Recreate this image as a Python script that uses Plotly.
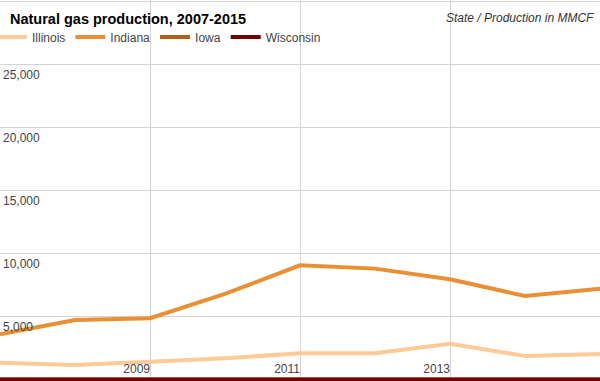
import plotly.graph_objects as go

years = [2007, 2008, 2009, 2010, 2011, 2012, 2013, 2014, 2015]
illinois = [1330, 1150, 1410, 1680, 2080, 2080, 2840, 1860, 2020]
indiana = [3590, 4720, 4860, 6790, 9060, 8800, 7950, 6630, 7210]
iowa = [0, 0, 0, 0, 0, 0, 0, 0, 0]
wisconsin = [0, 0, 0, 0, 0, 0, 0, 0, 0]

series_names = ["Illinois", "Indiana", "Iowa", "Wisconsin"]
series_values = [illinois, indiana, iowa, wisconsin]
colors = ["#FDCA98", "#E98F34", "#B55F12", "#730000"]

x_tickvals = [2009, 2011, 2013]
y_tickvals = [5000, 10000, 15000, 20000, 25000, 30000]
y_ticktext = ["5,000", "10,000", "15,000", "20,000", "25,000", ""]

FONT = "Liberation Sans, Arial, sans-serif"

fig = go.Figure()
for name, vals, col in zip(series_names, series_values, colors):
    fig.add_trace(go.Scatter(x=years, y=vals, name=name, mode="lines",
                             line=dict(color=col, width=4)))

fig.update_layout(
    width=600, height=381,
    margin=dict(l=0, r=0, t=0, b=0, pad=0, autoexpand=False),
    paper_bgcolor="white", plot_bgcolor="white",
    font=dict(family=FONT, size=12, color="#444444"),
    showlegend=True,
    legend=dict(orientation="h", x=326 / 600, xanchor="right", y=1 - 37 / 381, yanchor="middle",
                bgcolor="rgba(0,0,0,0)", font=dict(size=12, color="#444444"),
                tracegroupgap=0),
    xaxis=dict(range=[2007, 2015], tickvals=x_tickvals, showgrid=True,
               gridcolor="#d4d4d4", gridwidth=1, zeroline=False, showline=False,
               ticks="", ticklabelposition="inside left",
               tickfont=dict(size=12, color="#444444")),
    yaxis=dict(range=[-120, 30120], tickvals=y_tickvals, ticktext=y_ticktext,
               showgrid=True, gridcolor="#d4d4d4", gridwidth=1, zeroline=False,
               showline=False, ticks="", ticklabelposition="inside",
               ticklabelshift=10, tickfont=dict(size=12, color="#444444")),
    annotations=[
        dict(text="<b>Natural gas production, 2007-2015</b>", xref="paper", yref="paper",
             x=0.014, y=1 - 19 / 381, xanchor="left", yanchor="middle", showarrow=False,
             font=dict(size=14.5, color="#000000", family=FONT)),
        dict(text="<i>State / Production in MMCF</i>", xref="paper", yref="paper",
             x=596 / 600, y=1 - 18 / 381, xanchor="right", yanchor="middle", showarrow=False,
             font=dict(size=12, color="#333333", family=FONT)),
    ],
)

fig.write_html("out.html", config={"displayModeBar": False},
               post_script="document.body.style.margin='0';")
